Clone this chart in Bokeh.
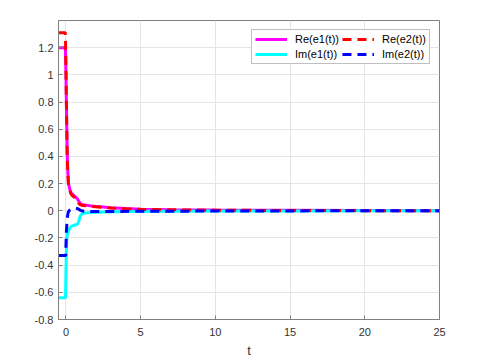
from bokeh.plotting import figure
from bokeh.models import Legend, LegendItem, Range1d, FixedTicker
from bokeh.embed import file_html
from bokeh.resources import INLINE

# Re(e1(t))
t_re1 = [-0.5, -0.04, 0.0, 0.04, 0.08, 0.12, 0.17, 0.25, 0.35, 0.45, 0.55, 0.65, 0.75, 0.85, 0.95, 1.05, 1.3, 1.6, 2.0, 2.5, 3.0, 4.0, 5.0, 7.0, 10.0, 15.0, 20.0, 25.0]
re1 = [1.2, 1.2, 1.0, 0.7, 0.45, 0.3, 0.2, 0.16, 0.13, 0.12, 0.11, 0.1, 0.09, 0.07, 0.055, 0.047, 0.042, 0.037, 0.032, 0.027, 0.022, 0.016, 0.012, 0.008, 0.005, 0.003, 0.002, 0.001]
# Re(e2(t))
t_re2 = [-0.5, -0.04, 0.0, 0.04, 0.08, 0.12, 0.17, 0.25, 0.35, 0.45, 0.55, 0.65, 0.75, 0.85, 0.95, 1.05, 1.3, 1.6, 2.0, 2.5, 3.0, 4.0, 5.0, 7.0, 10.0, 15.0, 20.0, 25.0]
re2 = [1.31, 1.31, 1.05, 0.7, 0.43, 0.28, 0.19, 0.15, 0.12, 0.11, 0.1, 0.09, 0.07, 0.055, 0.045, 0.04, 0.037, 0.033, 0.029, 0.025, 0.021, 0.015, 0.011, 0.007, 0.004, 0.002, 0.001, 0.0]
# Im(e1(t))
t_im1 = [-0.5, -0.03, 0.0, 0.03, 0.06, 0.1, 0.2, 0.3, 0.45, 0.6, 0.75, 0.85, 0.95, 1.05, 1.2, 1.5, 2.0, 3.0, 4.0, 6.0, 10.0, 15.0, 20.0, 25.0]
im1 = [-0.64, -0.64, -0.45, -0.28, -0.2, -0.17, -0.14, -0.12, -0.11, -0.105, -0.1, -0.08, -0.04, -0.025, -0.018, -0.014, -0.011, -0.008, -0.006, -0.004, -0.002, -0.001, 0.0, 0.0]
# Im(e2(t))
t_im2 = [-0.5, -0.02, 0.0, 0.03, 0.08, 0.15, 0.25, 0.35, 0.5, 0.65, 0.8, 0.95, 1.1, 1.3, 1.6, 2.0, 3.0, 5.0, 10.0, 15.0, 20.0, 25.0]
im2 = [-0.33, -0.33, -0.25, -0.15, -0.06, -0.01, 0.005, 0.012, 0.018, 0.02, 0.015, 0.005, -0.002, -0.005, -0.006, -0.006, -0.005, -0.004, -0.002, -0.001, 0.0, 0.0]

x_ticks = [0, 5, 10, 15, 20, 25]
y_ticks = [-0.8, -0.6, -0.4, -0.2, 0, 0.2, 0.4, 0.6, 0.8, 1, 1.2]
y_labels = {-0.8: "-0.8", -0.6: "-0.6", -0.4: "-0.4", -0.2: "-0.2", 0: "0", 0.2: "0.2",
            0.4: "0.4", 0.6: "0.6", 0.8: "0.8", 1: "1", 1.2: "1.2"}

p = figure(width=479, height=360, output_backend="svg", toolbar_location=None,
           x_range=Range1d(-0.5, 25), y_range=Range1d(-0.8, 1.4),
           min_border_left=58, min_border_right=40, min_border_top=20, min_border_bottom=40)
p.background_fill_color = "white"
p.border_fill_color = "white"
p.outline_line_color = "#808080"
p.outline_line_width = 1

l1 = p.line(t_re1, re1, line_color="#ff00ff", line_width=3)
l2 = p.line(t_im1, im1, line_color="#00ffff", line_width=3)
l3 = p.line(t_re2, re2, line_color="#ff0000", line_width=3, line_dash="9 6")
l4 = p.line(t_im2, im2, line_color="#0000ff", line_width=3, line_dash="9 6")

for ax in (p.xaxis[0], p.yaxis[0]):
    ax.axis_line_color = "#808080"
    ax.major_tick_line_color = "#808080"
    ax.major_tick_in = 4
    ax.major_tick_out = 0
    ax.minor_tick_line_color = None
    ax.major_label_text_font = "Liberation Sans"
    ax.major_label_text_font_size = "11px"
    ax.major_label_text_color = "#333333"
    ax.axis_label_text_font = "Liberation Sans"
    ax.axis_label_text_font_style = "normal"
    ax.axis_label_text_font_size = "13px"
    ax.axis_label_text_color = "#333333"

p.xaxis.ticker = FixedTicker(ticks=x_ticks)
p.yaxis.ticker = FixedTicker(ticks=y_ticks)
p.yaxis.major_label_overrides = y_labels
p.xaxis.major_label_standoff = 8
p.yaxis.major_label_standoff = 5
p.xaxis.axis_label = "t"
p.xaxis.axis_label_standoff = 4

p.xgrid.ticker = FixedTicker(ticks=x_ticks)
p.ygrid.ticker = FixedTicker(ticks=y_ticks + [1.4])
p.grid.grid_line_color = "#e5e5e5"
p.grid.grid_line_width = 1

legend = Legend(items=[
    LegendItem(label="Re(e1(t))", renderers=[l1]),
    LegendItem(label="Im(e1(t))", renderers=[l2]),
    LegendItem(label="Re(e2(t))", renderers=[l3]),
    LegendItem(label="Im(e2(t))", renderers=[l4]),
], location="top_right", ncols=2)
legend.margin = 9
legend.padding = 3
legend.spacing = 3
legend.label_text_font = "Liberation Sans"
legend.label_text_font_size = "11px"
legend.label_text_color = "#000000"
legend.label_height = 12
legend.glyph_height = 12
legend.glyph_width = 32
legend.label_standoff = 8
legend.border_line_color = "#808080"
legend.border_line_width = 1
legend.background_fill_color = "white"
legend.background_fill_alpha = 1
p.add_layout(legend)

open("out.html", "w").write(file_html(p, INLINE))
